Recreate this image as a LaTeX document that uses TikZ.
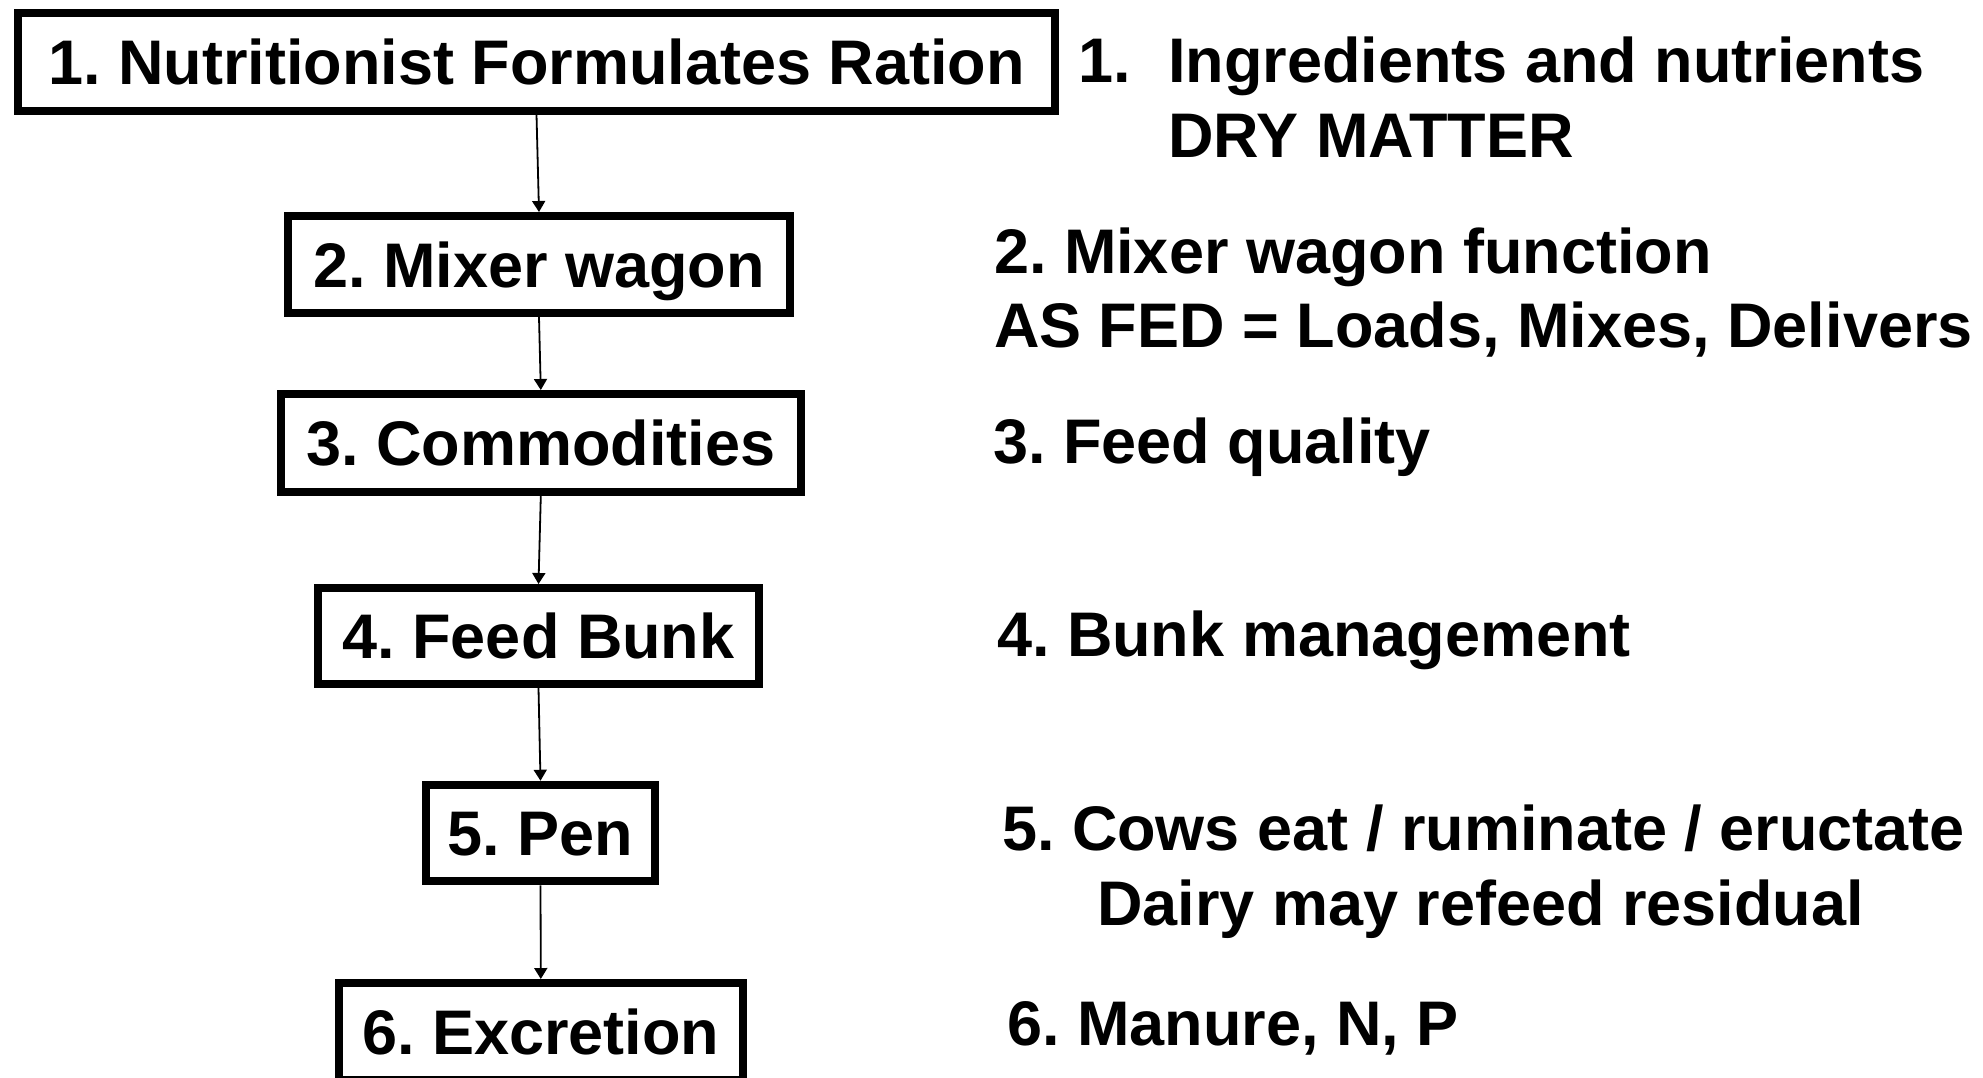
\documentclass[tikz,border=0pt]{standalone}
\usepackage{fontspec}
\setmainfont{Liberation Sans}
\usetikzlibrary{arrows.meta}
\frenchspacing
\tikzset{
  stepbox/.style={draw=black, line width=8pt, fill=white, inner sep=0pt, outer sep=4pt,
    text height=45pt, text depth=0pt, align=center,
    font=\fontsize{63pt}{74pt}\selectfont\bfseries\frenchspacing},
  note/.style={inner sep=0pt, outer sep=0pt, anchor=base west,
    font=\fontsize{63pt}{74pt}\selectfont\bfseries\frenchspacing},
  flow/.style={draw=black, line width=1.8pt, -{Triangle[length=11pt,width=13pt]}}
}
\begin{document}
\begin{tikzpicture}[x=1pt,y=-1pt]
\useasboundingbox (0,0) rectangle (1983,1077);
\node[stepbox, minimum width=1037pt, minimum height=97.5pt] (b1) at (536.5,61.75) {1. Nutritionist Formulates Ration};
\node[stepbox, minimum width=502pt, minimum height=97pt] (b2) at (539,264.5) {2. Mixer wagon};
\node[stepbox, minimum width=519.6pt, minimum height=98pt] (b3) at (540.8,443) {3. Commodities};
\node[stepbox, minimum width=441pt, minimum height=96pt] (b4) at (538.5,636) {4. Feed Bunk};
\node[stepbox, minimum width=229pt, minimum height=96.5pt] (b5) at (540.5,833) {5. Pen};
\node[stepbox, minimum width=404.4pt, minimum height=97pt] (b6) at (540.8,1031.5) {6. Excretion};

\draw[flow] (b1.south) -- (b2.north);
\draw[flow] (b2.south) -- (b3.north);
\draw[flow] (b3.south) -- (b4.north);
\draw[flow] (b4.south) -- (b5.north);
\draw[flow] (b5.south) -- (b6.north);

\node[note] (n1a) at (1078,82.6) {1.};
\node[note] (n1b) at (1168,82.6) {Ingredients and nutrients};
\node[note] (n1c) at (1168,157.4) {DRY MATTER};
\node[note] (n2a) at (994,273.8) {2. Mixer wagon function};
\node[note] (n2b) at (994,347) {AS FED = Loads, Mixes, Delivers};
\node[note] (n3) at (993,463) {3. Feed quality};
\node[note] (n4) at (997,656.4) {4. Bunk management};
\node[note] (n5a) at (1002,850) {5. Cows eat / ruminate / eructate};
\node[note] (n5b) at (1097,925) {Dairy may refeed residual};
\node[note] (n6) at (1007,1045) {6. Manure, N, P};
\end{tikzpicture}
\end{document}
